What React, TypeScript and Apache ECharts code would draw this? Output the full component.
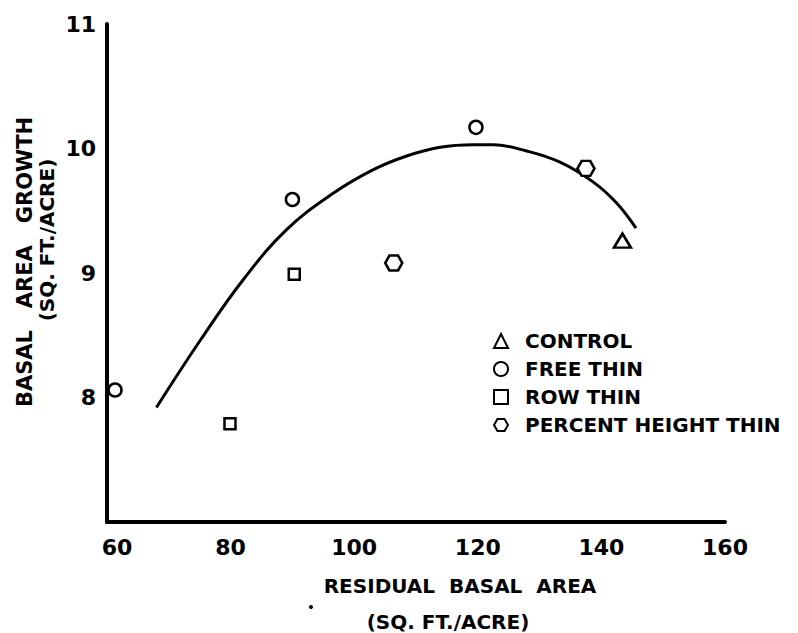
import React, { useEffect, useRef } from "react";
import * as echarts from "echarts";

// ---- data ----
const xTicks = [60, 80, 100, 120, 140, 160];
const yTicks = [8, 9, 10, 11];

const seriesNames = ["CONTROL", "FREE THIN", "ROW THIN", "PERCENT HEIGHT THIN"];

const control: number[][] = [[143.4, 9.26]];
const freeThin: number[][] = [
  [61.3, 8.06],
  [90.0, 9.59],
  [119.7, 10.17],
];
const rowThin: number[][] = [
  [79.9, 7.79],
  [90.3, 8.99],
];
const percentHeightThin: number[][] = [
  [106.4, 9.08],
  [137.5, 9.84],
];

// fitted curve as drawn in the figure
const trendCurve: number[][] = [
  [68.0, 7.92],
  [75.1, 8.46],
  [82.1, 8.95],
  [89.1, 9.35],
  [96.6, 9.64],
  [103.1, 9.83],
  [108.5, 9.94],
  [113.9, 10.01],
  [119.3, 10.03],
  [122.5, 10.03],
  [127.9, 9.98],
  [133.3, 9.89],
  [138.7, 9.73],
  [142.5, 9.56],
  [145.6, 9.36],
];

const FONT = "DejaVu Sans";
const hexPath = "path://M0,8.66 L5,0 L15,0 L20,8.66 L15,17.32 L5,17.32 Z";

export default function App() {
  const ref = useRef<HTMLDivElement>(null);

  useEffect(() => {
    if (!ref.current) return;
    const chart = echarts.init(ref.current, null, { renderer: "svg" });
    const hollow = {
      color: "#ffffff",
      borderColor: "#000000",
      borderWidth: 2.5,
      opacity: 1,
    };
    chart.setOption({
      animation: false,
      backgroundColor: "#ffffff",
      grid: { left: 107, right: 73, top: 24, bottom: 111, containLabel: false },
      xAxis: {
        type: "value",
        min: 60,
        max: 160,
        interval: 20,
        axisLine: { show: true, lineStyle: { color: "#000", width: 4, cap: "round" } },
        axisTick: { show: false },
        splitLine: { show: false },
        axisLabel: {
          show: true,
          margin: 14,
          color: "#000",
          fontFamily: FONT,
          fontWeight: "bold",
          fontSize: 22,
          formatter: (v: number) =>
            !xTicks.includes(v) ? "" : v === xTicks[0] ? `{first|${v}}` : String(v),
          rich: {
            first: {
              color: "#000",
              fontFamily: FONT,
              fontWeight: "bold",
              fontSize: 22,
              padding: [0, 0, 0, 20],
            },
          },
        },
      },
      yAxis: {
        type: "value",
        min: 7,
        max: 11,
        interval: 1,
        axisLine: { show: true, lineStyle: { color: "#000", width: 4, cap: "round" } },
        axisTick: { show: false },
        splitLine: { show: false },
        axisLabel: {
          show: true,
          margin: 11,
          color: "#000",
          fontFamily: FONT,
          fontWeight: "bold",
          fontSize: 22,
          formatter: (v: number) => (yTicks.includes(v) ? String(v) : ""),
        },
      },
      legend: {
        orient: "vertical",
        left: 488,
        top: 326,
        itemWidth: 14,
        itemHeight: 14,
        itemGap: 8,
        data: seriesNames,
        textStyle: {
          color: "#000",
          fontFamily: FONT,
          fontWeight: "bold",
          fontSize: 20,
          padding: [0, 0, 0, 12],
        },
      },
      series: [
        {
          type: "line",
          name: "curve",
          data: trendCurve,
          smooth: 0.4,
          showSymbol: false,
          symbol: "none",
          lineStyle: { color: "#000", width: 3 },
          z: 1,
          silent: true,
        },
        {
          type: "scatter",
          name: seriesNames[0],
          data: control,
          symbol: "triangle",
          symbolSize: [17, 14],
          itemStyle: hollow,
          z: 3,
        },
        {
          type: "scatter",
          name: seriesNames[1],
          data: freeThin,
          symbol: "circle",
          symbolSize: 13,
          itemStyle: hollow,
          z: 3,
        },
        {
          type: "scatter",
          name: seriesNames[2],
          data: rowThin,
          symbol: "rect",
          symbolSize: 11,
          itemStyle: hollow,
          z: 3,
        },
        {
          type: "scatter",
          name: seriesNames[3],
          data: percentHeightThin,
          symbol: hexPath,
          symbolSize: [17, 15],
          itemStyle: hollow,
          z: 3,
        },
      ],
      graphic: [
        {
          type: "text",
          x: 460,
          y: 586,
          style: {
            text: "RESIDUAL  BASAL  AREA",
            fontFamily: FONT,
            fontWeight: "bold",
            fontSize: 20,
            fill: "#000",
            align: "center",
            verticalAlign: "middle",
          },
        },
        {
          type: "text",
          x: 448,
          y: 622,
          style: {
            text: "(SQ. FT./ACRE)",
            fontFamily: FONT,
            fontWeight: "bold",
            fontSize: 20,
            fill: "#000",
            align: "center",
            verticalAlign: "middle",
          },
        },
        {
          type: "text",
          x: 25,
          y: 262,
          rotation: Math.PI / 2,
          style: {
            text: "BASAL   AREA   GROWTH",
            fontFamily: FONT,
            fontWeight: "bold",
            fontSize: 21,
            fill: "#000",
            align: "center",
            verticalAlign: "middle",
          },
        },
        {
          type: "text",
          x: 47,
          y: 240,
          rotation: Math.PI / 2,
          style: {
            text: "(SQ. FT./ACRE)",
            fontFamily: FONT,
            fontWeight: "bold",
            fontSize: 20,
            fill: "#000",
            align: "center",
            verticalAlign: "middle",
          },
        },
        {
          type: "circle",
          shape: { cx: 311, cy: 607, r: 2 },
          style: { fill: "#000" },
        },
      ],
    });
    return () => chart.dispose();
  }, []);

  return (
    <div
      ref={ref}
      style={{ position: "fixed", left: 0, top: 0, width: 798, height: 633, background: "#fff" }}
    />
  );
}
